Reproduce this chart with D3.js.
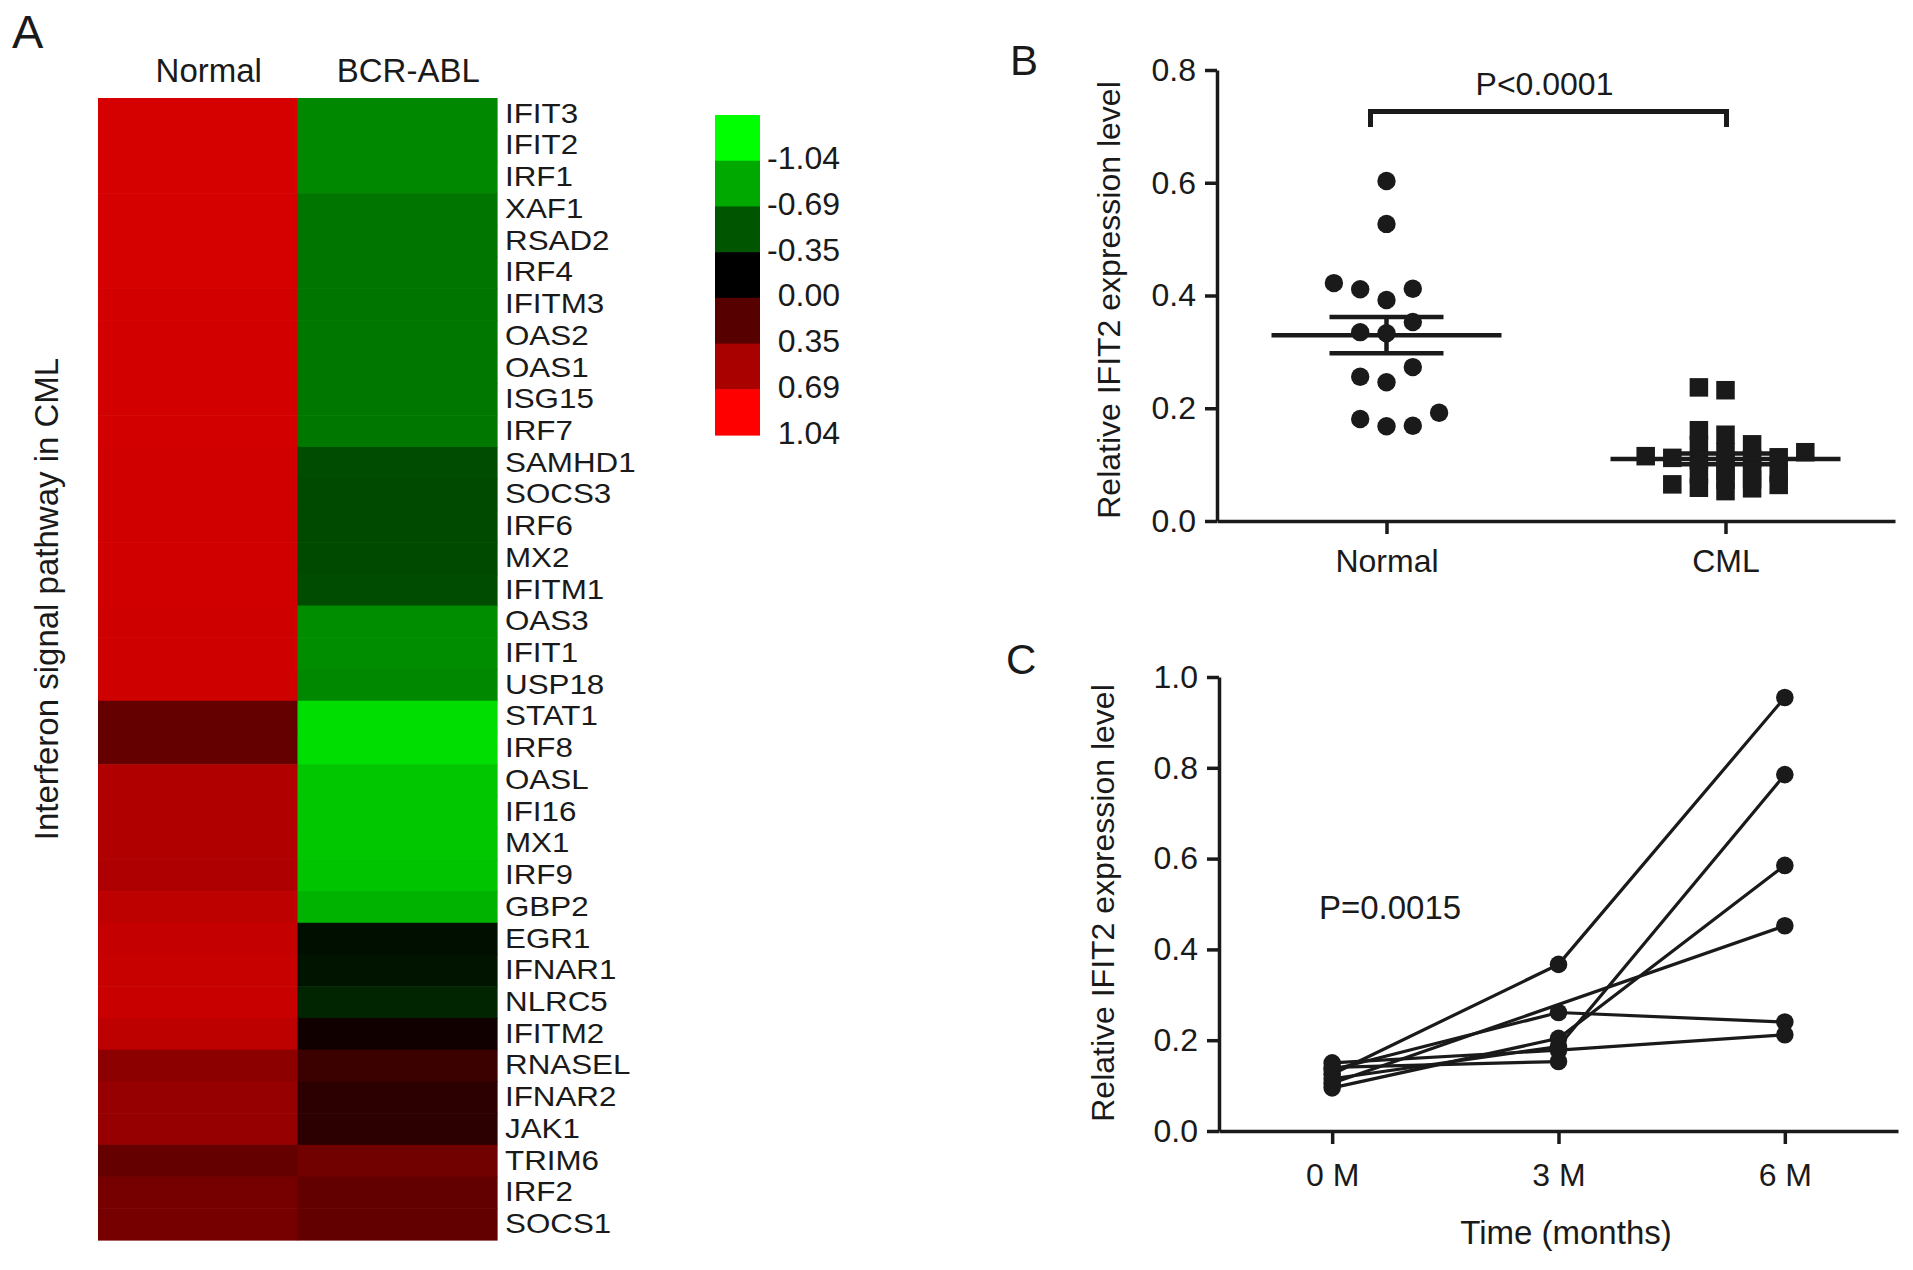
<!DOCTYPE html>
<html><head><meta charset="utf-8">
<script src="https://cdn.jsdelivr.net/npm/d3@7"></script>
<style>
html,body{margin:0;padding:0;background:#fff;}
svg{display:block;}
text{font-family:"Liberation Sans",Arial,Helvetica,sans-serif;fill:#1a1a1a;}
</style></head><body>
<svg id="chart" width="1913" height="1270"></svg>
<script>
// ---------- Panel A data ----------
const genes = ["IFIT3","IFIT2","IRF1","XAF1","RSAD2","IRF4","IFITM3","OAS2","OAS1","ISG15","IRF7",
  "SAMHD1","SOCS3","IRF6","MX2","IFITM1","OAS3","IFIT1","USP18","STAT1","IRF8","OASL","IFI16","MX1",
  "IRF9","GBP2","EGR1","IFNAR1","NLRC5","IFITM2","RNASEL","IFNAR2","JAK1","TRIM6","IRF2","SOCS1"];
const normalExpr = [0.87,0.87,0.87,0.87,0.87,0.87,0.86,0.86,0.86,0.86,0.86,
  0.85,0.85,0.85,0.85,0.85,0.84,0.84,0.84,0.41,0.41,0.72,0.72,0.72,
  0.71,0.77,0.80,0.81,0.82,0.77,0.57,0.61,0.61,0.41,0.48,0.48];
const bcrExpr = [-0.56,-0.56,-0.56,-0.48,-0.48,-0.48,-0.48,-0.49,-0.49,-0.49,-0.49,
  -0.31,-0.30,-0.30,-0.30,-0.31,-0.58,-0.58,-0.56,-0.90,-0.90,-0.81,-0.81,-0.81,
  -0.80,-0.73,-0.06,-0.08,-0.15,0.07,0.24,0.18,0.18,0.46,0.40,0.40];
const heatColumns = ["Normal","BCR-ABL"];
const legendValues = [-1.04,-0.69,-0.35,0,0.35,0.69,1.04];
const legendLabels = ["-1.04","-0.69","-0.35","0.00","0.35","0.69","1.04"];

// ---------- Panel B data ----------
const groupsB = ["Normal","CML"];
const normalIFIT2 = [0.603,0.527,0.422,0.412,0.411,0.392,0.353,0.335,0.333,0.273,0.256,0.246,0.192,0.181,0.169,0.168];
const cmlIFIT2 = [0.237,0.232,0.161,0.153,0.136,0.135,0.122,0.122,0.115,0.113,0.112,0.110,0.108,0.106,
  0.090,0.088,0.085,0.083,0.074,0.073,0.065,0.064,0.059,0.058,0.053];
const yTicksB = [0,0.2,0.4,0.6,0.8];

// ---------- Panel C data ----------
const timeLabels = ["0 M","3 M","6 M"];
const month0 = [0.125,0.105,0.135,0.095,0.115,0.150,0.140];
const month3 = [0.367,null,0.261,0.204,0.186,0.178,0.153];
const month6 = [0.955,0.452,0.240,0.585,0.785,0.212,null];
const yTicksC = [0,0.2,0.4,0.6,0.8,1.0];

// ---------- drawing ----------
const INK = "#1a1a1a";
const svg = d3.select("#chart");
svg.append("rect").attr("width",1913).attr("height",1270).attr("fill","#fff");

function label(t, x, y, size, opts={}){
  const e = svg.append("text").attr("x",x).attr("y",y).attr("font-size",size).text(t);
  if(opts.anchor) e.attr("text-anchor",opts.anchor);
  if(opts.rotate) e.attr("transform",`rotate(${opts.rotate},${x},${y})`);
  if(opts.dy) e.attr("dy",opts.dy);
  return e;
}

// Panel A heatmap
const color = d3.scaleLinear().domain([-1.04,0,1.04]).range(["#00ff00","#000000","#ff0000"]).clamp(true);
const hx = d3.scaleBand().domain(heatColumns).range([98,497]);
const hy = d3.scaleBand().domain(genes).range([98,1240]);
const cells = genes.flatMap((g,i)=>[{g,c:"Normal",v:normalExpr[i]},{g,c:"BCR-ABL",v:bcrExpr[i]}]);
svg.append("g").selectAll("rect").data(cells).join("rect")
  .attr("x",d=>hx(d.c)).attr("y",d=>hy(d.g))
  .attr("width",hx.bandwidth()+0.6).attr("height",hy.bandwidth()+0.6)
  .attr("fill",d=>color(d.v));

svg.append("g").selectAll("text").data(heatColumns).join("text")
  .attr("x",d=>hx(d)+hx.bandwidth()/2+11).attr("y",82)
  .attr("text-anchor","middle").attr("font-size",33).text(d=>d);

const geneX = hx.range()[1]+8;
svg.append("g").selectAll("text").data(genes).join("text")
  .attr("transform",d=>`translate(${geneX},${hy(d)+hy.bandwidth()/2-1}) scale(1.14,1)`)
  .attr("dy","0.36em").attr("font-size",27.5).text(d=>d);

// legend
const ly = d3.scaleBand().domain(legendValues).range([115,435]);
svg.append("g").selectAll("rect").data(legendValues).join("rect")
  .attr("x",715).attr("y",d=>ly(d)).attr("width",45).attr("height",ly.bandwidth()+0.6)
  .attr("fill",d=>color(d));
svg.append("g").selectAll("text").data(legendValues).join("text")
  .attr("x",840).attr("y",d=>ly(d)+ly.bandwidth()-3).attr("dy","0.36em")
  .attr("text-anchor","end").attr("font-size",32).text((d,i)=>legendLabels[i]);

label("Interferon signal pathway in CML", 58, 599, 33, {anchor:"middle", rotate:-90});
label("A", 12, 48, 47);

// styling helper for axes
function styleAxis(g){
  g.attr("font-family",null).attr("font-size",null);
  g.selectAll("path,line").attr("stroke",INK).attr("stroke-width",3.5);
  g.selectAll("text").attr("font-size",32).attr("fill",INK);
}

// Panel B
const yB = d3.scaleLinear().domain([0,0.8]).range([521,70]);
const xB = d3.scalePoint().domain(groupsB).range([1217,1895]).padding(0.5);
svg.append("g").attr("transform","translate(1217,0)")
  .call(d3.axisLeft(yB).tickValues(yTicksB).tickFormat(d3.format(".1f")).tickSize(12).tickSizeOuter(0).tickPadding(9))
  .call(styleAxis);
svg.append("g").attr("transform","translate(0,521)")
  .call(d3.axisBottom(xB).tickSize(13).tickSizeOuter(0).tickPadding(15))
  .call(styleAxis);

function swarm(values, yScale, step, minDy){
  const order = d3.range(values.length).sort((a,b)=>values[a]-values[b]);
  const placed = [], slot = new Array(values.length);
  let plus = 0, minus = 0;
  for(const i of order){
    const y = yScale(values[i]);
    const free = s => placed.every(p => p.s!==s || Math.abs(p.y-y) >= minDy);
    let chosen = null;
    for(let k=0; chosen===null; k++){
      const cands = k===0 ? [0] : (plus<=minus ? [k,-k] : [-k,k]);
      for(const s of cands){ if(free(s)){ chosen = s; break; } }
    }
    placed.push({s:chosen,y}); slot[i] = chosen;
    if(chosen>0) plus++; else if(chosen<0) minus++;
  }
  return slot.map(s=>s*step);
}

const offN = swarm(normalIFIT2, yB, 26.3, 26);
svg.append("g").selectAll("circle").data(normalIFIT2).join("circle")
  .attr("cx",(d,i)=>xB("Normal")+offN[i]).attr("cy",d=>yB(d)).attr("r",9.2).attr("fill",INK);

const offC = swarm(cmlIFIT2, yB, 26.6, 8);
const sq = 18.5;
svg.append("g").selectAll("rect").data(cmlIFIT2).join("rect")
  .attr("x",(d,i)=>xB("CML")+offC[i]-sq/2).attr("y",d=>yB(d)-sq/2)
  .attr("width",sq).attr("height",sq).attr("fill",INK);

function meanSem(vals, cx){
  const m = d3.mean(vals), se = d3.deviation(vals)/Math.sqrt(vals.length);
  const g = svg.append("g").attr("stroke",INK).attr("stroke-width",4.5);
  g.append("line").attr("x1",cx-115).attr("x2",cx+115).attr("y1",yB(m)).attr("y2",yB(m));
  [m-se,m+se].forEach(v=>g.append("line").attr("x1",cx-57).attr("x2",cx+57).attr("y1",yB(v)).attr("y2",yB(v)));
  g.append("line").attr("x1",cx).attr("x2",cx).attr("y1",yB(m-se)).attr("y2",yB(m+se));
}
meanSem(normalIFIT2, xB("Normal"));
meanSem(cmlIFIT2, xB("CML"));

// significance bracket
const bx1 = xB("Normal")-16, bx2 = xB("CML")+1;
svg.append("path").attr("d",`M${bx1},127V111.5H${bx2}V127`)
  .attr("fill","none").attr("stroke",INK).attr("stroke-width",5);
label("P<0.0001", (bx1+bx2)/2-4, 95, 32, {anchor:"middle"});
label("Relative IFIT2 expression level", 1120, 300, 32, {anchor:"middle", rotate:-90});
label("B", 1010, 75, 42);

// Panel C
const yC = d3.scaleLinear().domain([0,1]).range([1131,677]);
const xC = d3.scalePoint().domain(timeLabels).range([1219,1898]).padding(0.5);
svg.append("g").attr("transform","translate(1219,0)")
  .call(d3.axisLeft(yC).tickValues(yTicksC).tickFormat(d3.format(".1f")).tickSize(12).tickSizeOuter(0).tickPadding(9))
  .call(styleAxis);
svg.append("g").attr("transform","translate(0,1131)")
  .call(d3.axisBottom(xC).tickSize(13).tickSizeOuter(0).tickPadding(19))
  .call(styleAxis);

const patients = month0.map((v,i)=>[[timeLabels[0],v],[timeLabels[1],month3[i]],[timeLabels[2],month6[i]]]
  .filter(p=>p[1]!==null));
const line = d3.line().x(p=>xC(p[0])).y(p=>yC(p[1]));
svg.append("g").selectAll("path").data(patients).join("path")
  .attr("d",line).attr("fill","none").attr("stroke",INK).attr("stroke-width",3.2);
svg.append("g").selectAll("circle").data(patients.flat()).join("circle")
  .attr("cx",p=>xC(p[0])).attr("cy",p=>yC(p[1])).attr("r",8.8).attr("fill",INK);

label("P=0.0015", 1390, 919, 33, {anchor:"middle"});
label("Relative IFIT2 expression level", 1114, 903, 32, {anchor:"middle", rotate:-90});
label("Time (months)", 1566, 1244, 33, {anchor:"middle"});
label("C", 1006, 674, 42);
</script>
</body></html>
